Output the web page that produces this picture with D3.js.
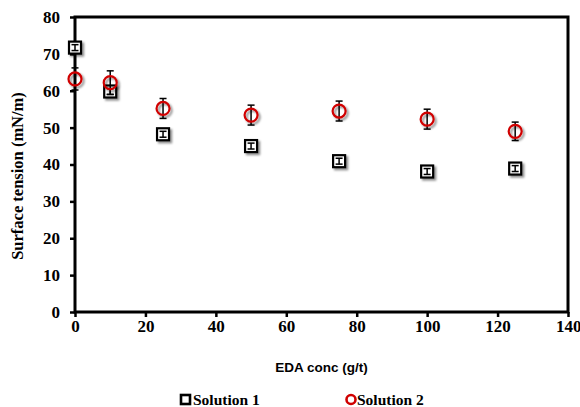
<!DOCTYPE html>
<html>
<head>
<meta charset="utf-8">
<script src="https://cdn.jsdelivr.net/npm/d3@7"></script>
<style>
  body { margin: 0; background: #fff; }
  .tick text { font-family: "Liberation Serif", serif; font-weight: bold; font-size: 17px; }
</style>
</head>
<body>
<div id="chart"></div>
<script>
const conc = [0, 10, 25, 50, 75, 100, 125];
const sol1 = [71.7, 59.8, 48.2, 45.0, 40.9, 38.1, 38.9];
const sol1Err = [0.8, 0.8, 0.8, 0.8, 0.8, 0.8, 0.8];
const sol2 = [63.2, 62.2, 55.2, 53.4, 54.5, 52.3, 49.0];
const sol2Err = [3.0, 3.2, 2.7, 2.7, 2.7, 2.7, 2.5];
const xTicks = [0, 20, 40, 60, 80, 100, 120, 140];
const yTicks = [0, 10, 20, 30, 40, 50, 60, 70, 80];

const width = 580, height = 407;
const margin = { top: 17, right: 12, bottom: 95, left: 75 };

const svg = d3.select('#chart').append('svg')
    .attr('width', width)
    .attr('height', height);

const defs = svg.append('defs');
const shadow = defs.append('filter').attr('id', 'shadow')
    .attr('x', '-50%').attr('y', '-50%').attr('width', '200%').attr('height', '200%');
shadow.append('feDropShadow')
    .attr('dx', 2).attr('dy', 2).attr('stdDeviation', 1.3)
    .attr('flood-color', '#000').attr('flood-opacity', 0.45);

const x = d3.scaleLinear().domain([0, 140]).range([margin.left, width - margin.right]);
const y = d3.scaleLinear().domain([0, 80]).range([height - margin.bottom, margin.top]);

// frame
svg.append('rect')
    .attr('x', x(0)).attr('y', y(80))
    .attr('width', x(140) - x(0)).attr('height', y(0) - y(80))
    .attr('fill', 'none').attr('stroke', '#000').attr('stroke-width', 3);

const xAxis = svg.append('g')
    .attr('transform', `translate(0,${y(0)})`)
    .call(d3.axisBottom(x).tickValues(xTicks).tickSize(5).tickPadding(3).tickFormat(d3.format('d')));
const yAxis = svg.append('g')
    .attr('transform', `translate(${x(0)},0)`)
    .call(d3.axisLeft(y).tickValues(yTicks).tickSize(5).tickPadding(10).tickFormat(d3.format('d')));
[xAxis, yAxis].forEach(a => {
    a.select('.domain').remove();
    a.selectAll('.tick line').attr('stroke', '#000').attr('stroke-width', 2.5);
    a.selectAll('.tick text').attr('fill', '#000');
});
// keep the last x label inside the page
xAxis.selectAll('.tick text').filter(d => d === 140).attr('text-anchor', 'end').attr('dx', 13);

// axis titles
svg.append('text')
    .attr('transform', `translate(23,176) rotate(-90)`)
    .attr('text-anchor', 'middle')
    .style('font-family', '"Liberation Serif", serif')
    .style('font-weight', 'bold')
    .style('font-size', '16.5px')
    .text('Surface tension (mN/m)');

svg.append('text')
    .attr('x', (x(0) + x(140)) / 2)
    .attr('y', 372)
    .attr('text-anchor', 'middle')
    .style('font-family', '"Liberation Sans", sans-serif')
    .style('font-weight', 'bold')
    .style('font-size', '13.5px')
    .text('EDA conc (g/t)');

const capW = 3.5;
const drawErr = (vals, errs, cls) => {
    const g = svg.append('g').attr('class', cls);
    conc.forEach((c, i) => {
        const cx = x(c), t = y(vals[i] + errs[i]), b = y(vals[i] - errs[i]);
        g.append('line').attr('x1', cx).attr('x2', cx).attr('y1', t).attr('y2', b)
            .attr('stroke', '#000').attr('stroke-width', 1.5);
        g.append('line').attr('x1', cx - capW).attr('x2', cx + capW).attr('y1', t).attr('y2', t)
            .attr('stroke', '#000').attr('stroke-width', 1.5);
        g.append('line').attr('x1', cx - capW).attr('x2', cx + capW).attr('y1', b).attr('y2', b)
            .attr('stroke', '#000').attr('stroke-width', 1.5);
    });
};

// solution 1 squares
svg.append('g').selectAll('rect')
    .data(conc)
    .enter()
    .append('rect')
    .attr('x', (d, i) => x(d) - 6)
    .attr('y', (d, i) => y(sol1[i]) - 6)
    .attr('width', 12).attr('height', 12)
    .attr('fill', '#fff').attr('stroke', '#000').attr('stroke-width', 2.2)
    .attr('filter', 'url(#shadow)');
drawErr(sol1, sol1Err, 'err1');

// solution 2 circles
drawErr(sol2, sol2Err, 'err2');
svg.append('g').selectAll('circle')
    .data(conc)
    .enter()
    .append('circle')
    .attr('cx', d => x(d))
    .attr('cy', (d, i) => y(sol2[i]))
    .attr('r', 6.5)
    .attr('fill', 'none').attr('stroke', '#d00000').attr('stroke-width', 2.2)
    .attr('filter', 'url(#shadow)');

// legend
const legend = svg.append('g');
const legFont = '15.5px';
legend.append('rect').attr('x', 181).attr('y', 395).attr('width', 9).attr('height', 9)
    .attr('fill', '#fff').attr('stroke', '#000').attr('stroke-width', 2.6);
legend.append('text').attr('x', 193).attr('y', 405)
    .style('font-family', '"Liberation Serif", serif').style('font-weight', 'bold').style('font-size', legFont)
    .text('Solution 1');
legend.append('circle').attr('cx', 351).attr('cy', 399.5).attr('r', 4.5)
    .attr('fill', 'none').attr('stroke', '#d00000').attr('stroke-width', 2.6);
legend.append('text').attr('x', 357).attr('y', 405)
    .style('font-family', '"Liberation Serif", serif').style('font-weight', 'bold').style('font-size', legFont)
    .text('Solution 2');
</script>
</body>
</html>
